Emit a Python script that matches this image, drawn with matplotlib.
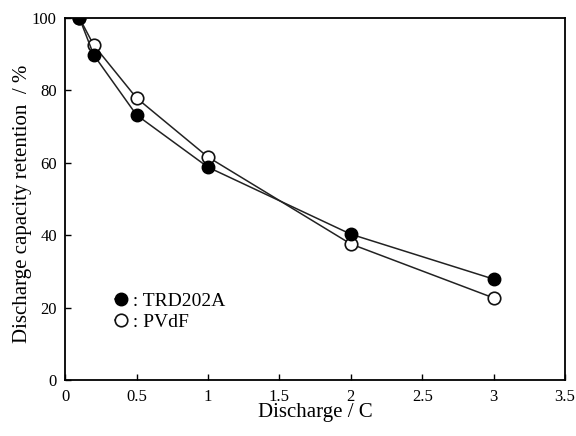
import matplotlib
matplotlib.use('Agg')
import matplotlib.pyplot as plt

plt.rcParams['font.family'] = ['Liberation Serif', 'DejaVu Serif']

# discharge rate (C) and capacity retention (%)
rate = [0.1, 0.2, 0.5, 1, 2, 3]
trd202a = [100, 89.8, 73.2, 58.8, 40.3, 27.9]
pvdf = [100, 92.5, 77.9, 61.6, 37.6, 22.7]

fig = plt.figure(figsize=(5.76, 4.36), dpi=100)
ax = fig.add_axes([0.113, 0.128, 0.868, 0.831])

ax.plot(rate, pvdf, color='#222222', lw=1.1, marker='o', ms=9,
        mfc='white', mec='#111111', mew=1.2, label=' : PVdF', zorder=3)
ax.plot(rate, trd202a, color='#222222', lw=1.1, marker='o', ms=9,
        mfc='black', mec='black', label=' : TRD202A', zorder=4)

ax.set_xlim(0, 3.5)
ax.set_ylim(0, 100)
ax.set_xticks([0, 0.5, 1, 1.5, 2, 2.5, 3, 3.5])
ax.set_xticklabels(['0', '0.5', '1', '1.5', '2', '2.5', '3', '3.5'])
ax.set_yticks([0, 20, 40, 60, 80, 100])
ax.tick_params(direction='in', length=4, width=1, labelsize=12, pad=6)
for s in ax.spines.values():
    s.set_linewidth(1.3)

ax.set_xlabel('Discharge / C', fontsize=15, labelpad=-1)
ax.set_ylabel('Discharge capacity retention  / %', fontsize=15)
ax.yaxis.set_label_coords(-0.067, 0.487)

h, l = ax.get_legend_handles_labels()
ax.legend(h[::-1], l[::-1], loc='upper left', bbox_to_anchor=(0.08, 0.27),
          frameon=False, fontsize=14, handlelength=0.6, handletextpad=0.1,
          labelspacing=0.2, borderpad=0)

fig.savefig('out.png', dpi=100)
